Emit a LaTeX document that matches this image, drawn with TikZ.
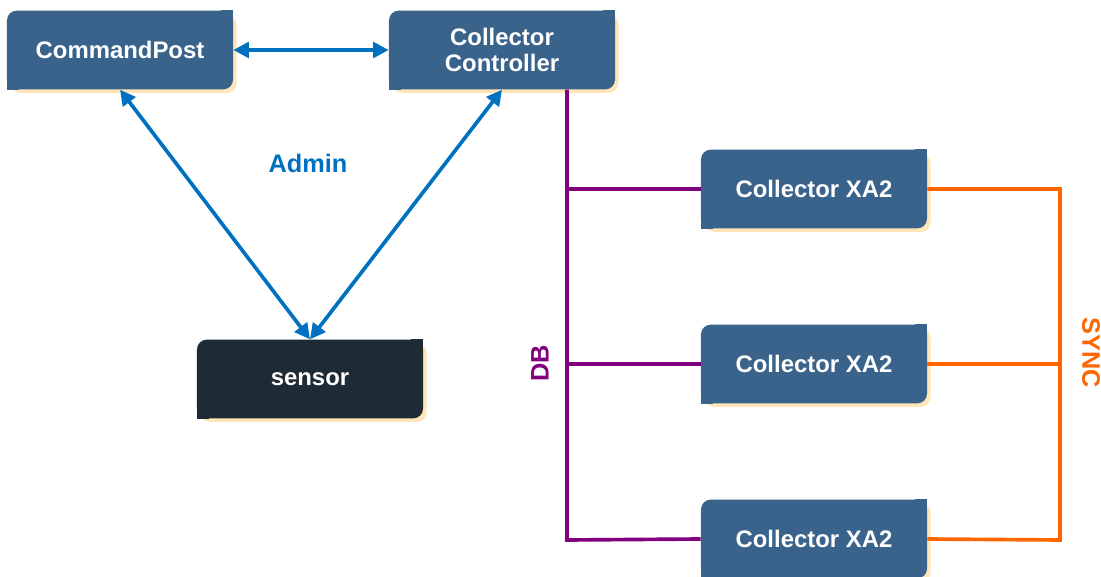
\documentclass[tikz,border=0pt]{standalone}
\usepackage{fontspec}
\setmainfont{Liberation Sans}
\usetikzlibrary{arrows.meta,positioning,shadows}

\definecolor{boxblue}{RGB}{58,99,140}
\definecolor{boxdark}{RGB}{31,43,52}
\definecolor{adminblue}{RGB}{0,112,192}
\definecolor{dbpurple}{RGB}{128,0,128}
\definecolor{syncorange}{RGB}{255,102,0}
\definecolor{glow}{RGB}{255,222,165}

\begin{document}
\begin{tikzpicture}[x=0.025cm, y=-0.025cm,
    box/.style={rectangle, fill=boxblue, rounded corners=7pt, minimum width=5.65cm, minimum height=1.97cm, align=center, text=white, font=\bfseries\fontsize{17}{19}\selectfont, drop shadow={shadow xshift=2.5pt, shadow yshift=-2.5pt, fill=glow, opacity=.8}},
    arrow/.style={{Triangle[length=11pt,width=11pt]}-{Triangle[length=11pt,width=11pt]}, line width=2.6pt, draw=adminblue},
    dbline/.style={line width=2.6pt, draw=dbpurple},
    syncline/.style={line width=2.6pt, draw=syncorange},
    lbl/.style={font=\bfseries\fontsize{18}{20}\selectfont}
]
    \useasboundingbox (0,0) rectangle (1101,577);

    % Admin side
    \node[box] (cp) at (120,50) {CommandPost};
    \node[box] (ctrl) at (502,50) {Collector\\Controller};
    \node[box, fill=boxdark] (sensor) at (310,379) {sensor};

    % Collectors
    \node[box] (xa1) at (814,189) {Collector XA2};
    \node[box] (xa2) at (814,364) {Collector XA2};
    \node[box] (xa3) at (814,539) {Collector XA2};

    % Square corners
    \foreach \n/\c in {cp/boxblue, ctrl/boxblue, sensor/boxdark, xa1/boxblue, xa2/boxblue, xa3/boxblue} {
        \fill[\c] (\n.north east) rectangle ++(-12,12);
        \fill[\c] (\n.south west) rectangle ++(12,-12);
    }

    % Arrows
    \draw[arrow] (cp.east) -- (ctrl.west);
    \draw[arrow] (cp.south) -- (sensor.north);
    \draw[arrow] (ctrl.south) -- (sensor.north);
    \node[lbl, text=adminblue] (admin) at (308,163) {Admin};

    % DB bus
    \coordinate (dbbus) at (567,540);
    \draw[dbline] (ctrl.south -| dbbus) -- (dbbus) -- (xa3.west);
    \draw[dbline] (xa1.west -| dbbus) -- (xa1.west);
    \draw[dbline] (xa2.west -| dbbus) -- (xa2.west);
    \node[lbl, text=dbpurple, rotate=90] (db) at (540,363) {DB};

    % SYNC bus
    \coordinate (syncbus) at (1060,540);
    \draw[syncline] (xa1.east) -- (xa1.east -| syncbus) -- (syncbus) -- (xa3.east);
    \draw[syncline] (xa2.east) -- (xa2.east -| syncbus);
    \node[lbl, text=syncorange, rotate=-90] (sync) at (1091,353) {SYNC};
\end{tikzpicture}
\end{document}
